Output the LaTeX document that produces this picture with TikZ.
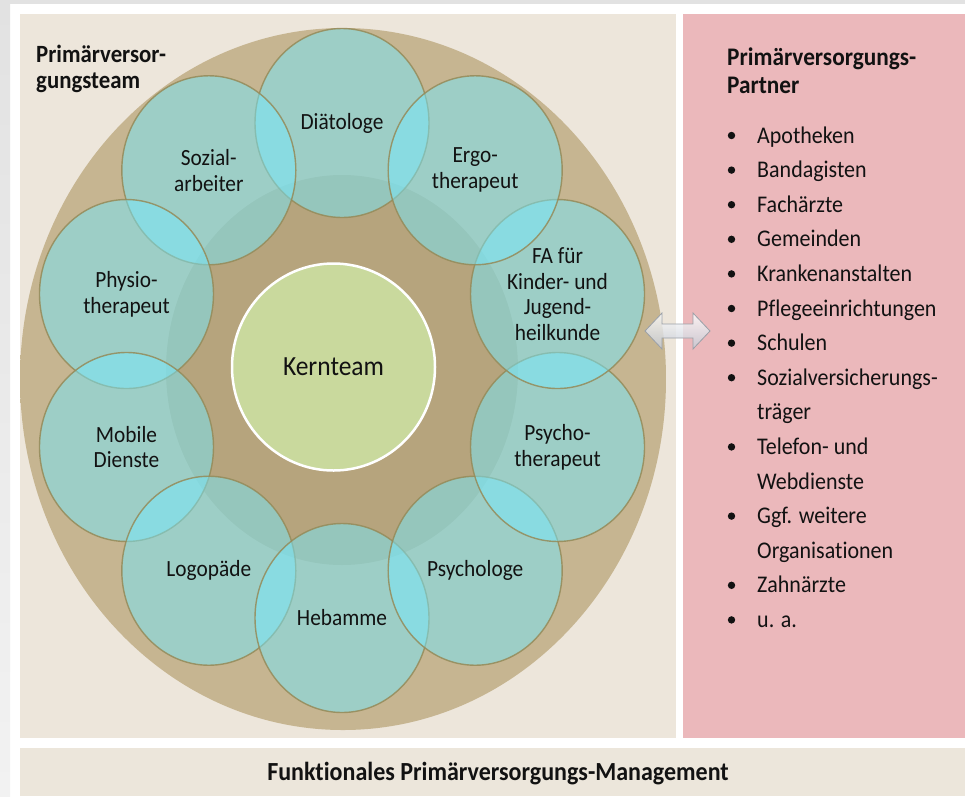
\documentclass[tikz,border=0pt]{standalone}
\usepackage{fontspec}
\setmainfont{Carlito}[Ligatures=NoCommon, FakeStretch=0.92]
\usetikzlibrary{shapes.geometric}
\definecolor{bgGrey}{HTML}{E2E2E2}
\definecolor{bgGreyLight}{HTML}{F2F2F2}
\definecolor{panelBeige}{HTML}{EDE6DB}
\definecolor{panelPink}{HTML}{EBB8BB}
\definecolor{barBeige}{HTML}{ECE6DB}
\definecolor{tanOut}{HTML}{D3C7A9}
\definecolor{tanIn}{HTML}{C6B591}
\definecolor{tanDisk}{HTML}{B6A47D}
\definecolor{tealFill}{RGB}{118,232,252}
\definecolor{tealLine}{HTML}{958A58}
\definecolor{kernGreen}{HTML}{C9D99D}
\definecolor{txt}{HTML}{121212}
\definecolor{arrowLine}{HTML}{9AA0A8}
\definecolor{arrowShade}{HTML}{C3C9D4}
\pgfdeclareradialshading{bigtan}{\pgfpoint{0bp}{0bp}}{color(0bp)=(tanIn); color(30bp)=(tanIn); color(50bp)=(tanOut)}
\tikzset{
  member/.style={ellipse, minimum width=174pt, minimum height=189pt, inner sep=0pt,
    fill=tealFill, fill opacity=0.5, text opacity=1, draw=tealLine, draw opacity=0.85,
    line width=1.4pt, align=center, text=txt,
    font=\fontsize{23.2}{25.7}\selectfont},
  lheader/.style={anchor=base west, inner sep=0pt, text=txt, font=\fontsize{24.8}{28}\selectfont\bfseries},
  rheader/.style={anchor=base west, inner sep=0pt, text=txt, font=\fontsize{25.3}{28}\selectfont\bfseries},
  item/.style={anchor=base west, inner sep=0pt, text=txt, font=\fontsize{23.9}{26}\selectfont},
  bulletdot/.style={circle, fill=txt, inner sep=0pt, minimum size=7.4pt},
}
\begin{document}
\begin{tikzpicture}[x=1pt, y=-1pt]
\useasboundingbox (0,0) rectangle (965,796);
% background frame
\fill[white] (0,0) rectangle (965,796);
\shade[top color=bgGrey, bottom color=bgGreyLight] (0,0) rectangle (10,796);
\fill[bgGrey] (0,0) rectangle (965,4);
% panels
\fill[panelBeige] (20,14) rectangle (676,738);
\fill[panelPink] (683,14) rectangle (965,738);
\fill[barBeige] (20,748) rectangle (965,796);
% big circle and inner disk
\node[ellipse, minimum width=646pt, minimum height=702pt, inner sep=0pt, shading=bigtan] (outer) at (343,379) {};
\node[ellipse, minimum width=352pt, minimum height=390pt, inner sep=0pt, fill=tanDisk] (disk) at (342,370) {};
% core team
\node[ellipse, minimum width=203pt, minimum height=207pt, inner sep=0pt, fill=kernGreen, draw=white, line width=2.5pt, text=txt, font=\fontsize{27.7}{30}\selectfont] (kern) at (333.5,367) {\raisebox{-2pt}{Kernteam}};
% members
\node[member] (m1) at ({342+226.6*cos(90)},{370.5-247.5*sin(90)}) {Diätologe};
\node[member] (m2) at ({342+226.6*cos(126)},{370.5-247.5*sin(126)}) {Sozial-\\arbeiter};
\node[member] (m3) at ({342+226.6*cos(162)},{370.5-247.5*sin(162)}) {Physio-\\therapeut};
\node[member] (m4) at ({342+226.6*cos(198)},{370.5-247.5*sin(198)}) {Mobile\\Dienste};
\node[member] (m5) at ({342+226.6*cos(234)},{370.5-247.5*sin(234)}) {Logopäde};
\node[member] (m6) at ({342+226.6*cos(270)},{370.5-247.5*sin(270)}) {Hebamme};
\node[member] (m7) at ({342+226.6*cos(306)},{370.5-247.5*sin(306)}) {Psychologe};
\node[member] (m8) at ({342+226.6*cos(342)},{370.5-247.5*sin(342)}) {Psycho-\\therapeut};
\node[member] (m9) at ({342+226.6*cos(18)},{370.5-247.5*sin(18)}) {FA für\\Kinder- und\\Jugend-\\heilkunde};
\node[member] (m10) at ({342+226.6*cos(54)},{370.5-247.5*sin(54)}) {Ergo-\\therapeut};
% left header
\node[lheader] (lh1) at (36,62) {Primärversor-};
\node[lheader] (lh2) at (36,88) {gungsteam};
% double arrow
\shade[top color=white, bottom color=arrowShade, fill opacity=0.8, draw=arrowLine, line width=0.8pt]
  (645,331) -- (662,313) -- (662,324) -- (693,324) -- (693,313) -- (710,331)
  -- (693,349) -- (693,338) -- (662,338) -- (662,349) -- cycle;
% right panel
\node[rheader] (rh1) at (727,65) {Primärversorgungs-};
\node[rheader] (rh2) at (727,93) {Partner};
\node[bulletdot] (b1) at (731.5,135.5) {};   \node[item] (p1) at (757,143) {Apotheken};
\node[bulletdot] (b2) at (731.5,170.1) {};   \node[item] (p2) at (757,177.6) {Bandagisten};
\node[bulletdot] (b3) at (731.5,204.7) {};   \node[item] (p3) at (757,212.2) {Fachärzte};
\node[bulletdot] (b4) at (731.5,239.3) {};   \node[item] (p4) at (757,246.8) {Gemeinden};
\node[bulletdot] (b5) at (731.5,273.9) {};   \node[item] (p5) at (757,281.4) {Krankenanstalten};
\node[bulletdot] (b6) at (731.5,308.5) {};   \node[item] (p6) at (757,316) {Pflegeeinrichtungen};
\node[bulletdot] (b7) at (731.5,343.1) {};   \node[item] (p7) at (757,350.6) {Schulen};
\node[bulletdot] (b8) at (731.5,377.7) {};   \node[item] (p8) at (757,385.2) {Sozialversicherungs-};
\node[item] (p8b) at (757,419.8) {träger};
\node[bulletdot] (b9) at (731.5,446.9) {};   \node[item] (p9) at (757,454.4) {Telefon- und};
\node[item] (p9b) at (757,489) {Webdienste};
\node[bulletdot] (b10) at (731.5,516.1) {};  \node[item] (p10) at (757,523.6) {Ggf. weitere};
\node[item] (p10b) at (757,558.2) {Organisationen};
\node[bulletdot] (b11) at (731.5,585.3) {};  \node[item] (p11) at (757,592.8) {Zahnärzte};
\node[bulletdot] (b12) at (731.5,619.9) {};  \node[item] (p12) at (757,627.4) {u. a.};
% bottom bar
\node[rheader, anchor=base, font=\fontsize{26.1}{28}\selectfont\bfseries] (foot) at (498,780) {Funktionales Primärversorgungs-Management};
\end{tikzpicture}
\end{document}
